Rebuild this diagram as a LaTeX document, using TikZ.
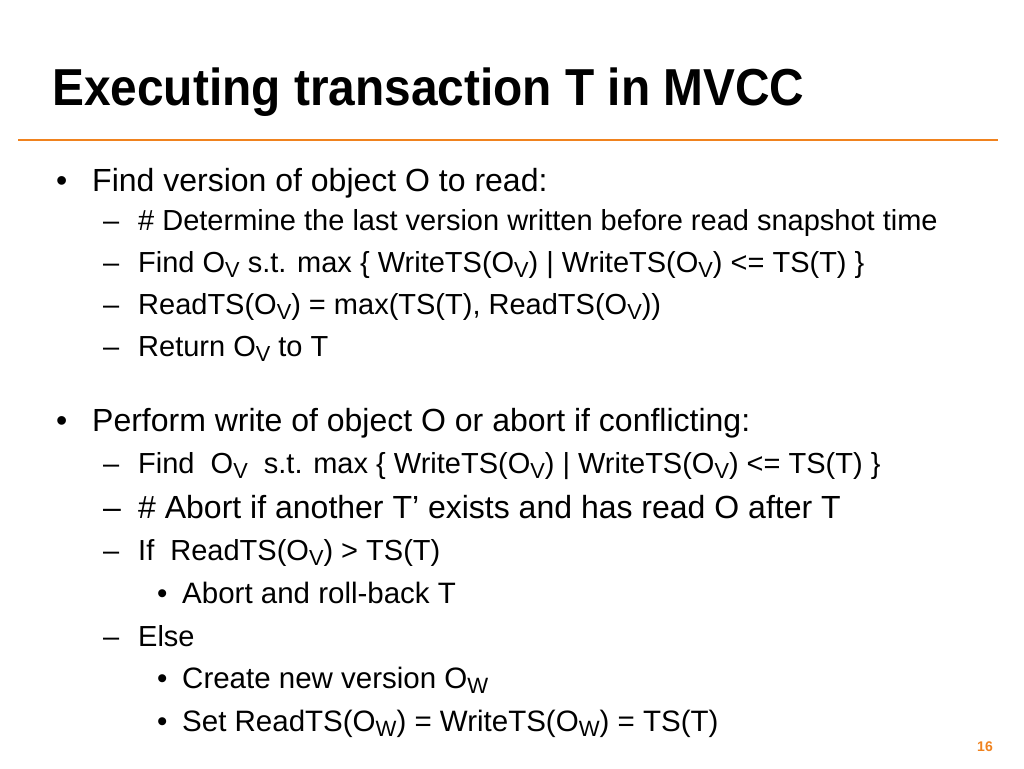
\documentclass[tikz,border=0pt]{standalone}
\usepackage{fontspec}
\setmainfont{Liberation Sans}
\newfontfamily\narrowf{Liberation Sans}[FakeStretch=0.92]
\definecolor{orng}{RGB}{240,130,30}
\newcommand{\lsub}[1]{\raisebox{-0.35ex}{\scalebox{0.75}{#1}}}
\begin{document}
\begin{tikzpicture}[x=1pt,y=-1pt,
  ttl/.style={anchor=base west,inner sep=0pt,font=\narrowf\fontsize{52}{56}\selectfont\bfseries},
  lone/.style={anchor=base west,inner sep=0pt,font=\fontsize{32}{36}\selectfont},
  ltwo/.style={anchor=base west,inner sep=0pt,font=\fontsize{29}{32}\selectfont},
  lthree/.style={anchor=base west,inner sep=0pt,font=\fontsize{29.5}{32}\selectfont}]
\useasboundingbox[fill=white] (0,0) rectangle (1024,768);
\node[ttl] (title) at (52,105) {Executing transaction T in MVCC};
\coordinate (la) at (18,140); \coordinate (lb) at (998,140);
\draw[orng,line width=2.2pt] (la) -- (lb);
\node[lone] (b1) at (56,191) {•};
\node[lone] (t1) at (92,191) {Find version of object O to read:};
\node[ltwo] (d1) at (103,230) {–};
\node[ltwo] (t2) at (138,230) {\# Determine the last version written before read snapshot time};
\node[ltwo] (d2) at (103,272) {–};
\node[ltwo] (t3) at (138,272) {Find O\lsub{V} s.t. max \{ WriteTS(O\lsub{V}) | WriteTS(O\lsub{V}) <= TS(T) \}};
\node[ltwo] (d3) at (103,314) {–};
\node[ltwo] (t4) at (138,314) {ReadTS(O\lsub{V}) = max(TS(T), ReadTS(O\lsub{V}))};
\node[ltwo] (d4) at (103,356) {–};
\node[ltwo] (t5) at (138,356) {Return O\lsub{V} to T};
\node[lone] (b2) at (56,431) {•};
\node[lone] (t6) at (92,431) {Perform write of object O or abort if conflicting:};
\node[ltwo] (d5) at (103,473) {–};
\node[ltwo] (t7) at (138,473) {Find\ \ O\lsub{V}\ \ s.t. max \{ WriteTS(O\lsub{V}) | WriteTS(O\lsub{V}) <= TS(T) \}};
\node[lone] (d6) at (103,518) {–};
\node[lone] (t8) at (138,518) {\# Abort if another T’ exists and has read O after T};
\node[ltwo] (d7) at (103,560) {–};
\node[ltwo] (t9) at (138,560) {If\ \ ReadTS(O\lsub{V}) > TS(T)};
\node[lthree] (e1) at (157,603) {•};
\node[lthree] (t10) at (182,603) {Abort and roll-back T};
\node[ltwo] (d8) at (103,646) {–};
\node[ltwo] (t11) at (138,646) {Else};
\node[lthree] (e2) at (157,688) {•};
\node[lthree] (t12) at (182,688) {Create new version O\lsub{W}};
\node[lthree] (e3) at (157,731) {•};
\node[lthree] (t13) at (182,731) {Set ReadTS(O\lsub{W}) = WriteTS(O\lsub{W}) = TS(T)};
\node[anchor=base,inner sep=0pt,text=orng,font=\fontsize{14}{16}\selectfont\bfseries] (pg) at (985,751) {16};
\end{tikzpicture}
\end{document}
